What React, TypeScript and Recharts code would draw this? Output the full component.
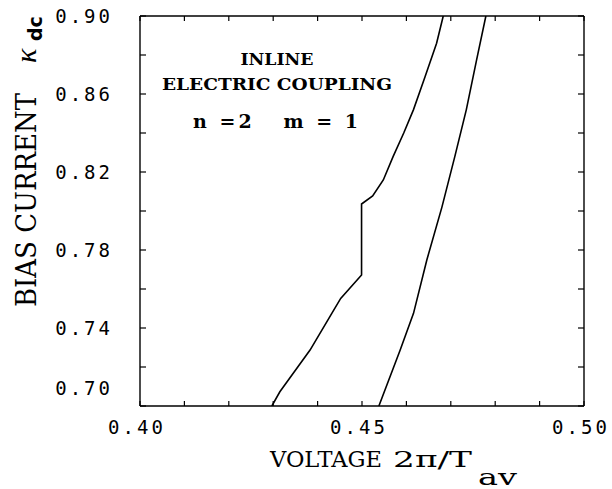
import { LineChart, Line, XAxis, YAxis, Label } from 'recharts';

// left branch (lower boundary, with the jump near 0.45)
const leftVoltage = [0.4297, 0.4315, 0.4383, 0.4432, 0.4452, 0.4499, 0.4499, 0.4524, 0.4548, 0.4570, 0.4594, 0.4616, 0.4642, 0.4668, 0.4683];
const leftCurrent = [0.700, 0.7073, 0.7287, 0.7475, 0.7552, 0.7672, 0.8036, 0.8077, 0.8159, 0.8279, 0.8400, 0.8520, 0.8689, 0.8860, 0.900];

// right branch
const rightVoltage = [0.4538, 0.4586, 0.4616, 0.4646, 0.4680, 0.4709, 0.4735, 0.4758, 0.4779];
const rightCurrent = [0.700, 0.7287, 0.7475, 0.7749, 0.8020, 0.8279, 0.8520, 0.8774, 0.900];

const xTicks = [0.40, 0.41, 0.42, 0.43, 0.44, 0.45, 0.46, 0.47, 0.48, 0.49, 0.50];
const yTicks = [0.70, 0.72, 0.74, 0.76, 0.78, 0.80, 0.82, 0.84, 0.86, 0.88, 0.90];
const xLabels = ['0.40', '0.45', '0.50'];
const yLabels = ['0.70', '0.74', '0.78', '0.82', '0.86', '0.90'];

const leftBranch = leftVoltage.map((v, i) => ({ v, k: leftCurrent[i] }));
const rightBranch = rightVoltage.map((v, i) => ({ v, k: rightCurrent[i] }));

const numFont = '"DejaVu Sans Mono", monospace';
const serifFont = '"DejaVu Serif", serif';

const BottomTick = (props: any) => {
    const { x, y, payload } = props;
    const label = Number(payload.value).toFixed(2);
    return (
        <g>
            <line x1={x} x2={x} y1={y} y2={y - 5} stroke="#000" strokeWidth={1.2} />
            {xLabels.includes(label) && (
                <text x={x - 3} y={y + 28} textAnchor="middle" fontFamily={numFont} fontSize={19} letterSpacing={3} fill="#000">
                    {label}
                </text>
            )}
        </g>
    );
};

const TopTick = (props: any) => {
    const { x, y } = props;
    return <line x1={x} x2={x} y1={y} y2={y + 5} stroke="#000" strokeWidth={1.2} />;
};

const LeftTick = (props: any) => {
    const { x, y, payload } = props;
    const label = Number(payload.value).toFixed(2);
    const dy = label === '0.70' ? -11 : 7;
    return (
        <g>
            <line x1={x} x2={x + 6} y1={y} y2={y} stroke="#000" strokeWidth={1.2} />
            {yLabels.includes(label) && (
                <text x={x - 27} y={y + dy} textAnchor="end" fontFamily={numFont} fontSize={19} letterSpacing={3} fill="#000">
                    {label}
                </text>
            )}
        </g>
    );
};

const RightTick = (props: any) => {
    const { x, y } = props;
    return <line x1={x} x2={x - 6} y1={y} y2={y} stroke="#000" strokeWidth={1.2} />;
};

const XTitle = () => (
    <g fill="#000" fontFamily={serifFont}>
        <text x={270} y={467} fontSize={23} textLength={112} lengthAdjust="spacingAndGlyphs">VOLTAGE</text>
        <text x={393} y={467} fontSize={23} textLength={79} lengthAdjust="spacingAndGlyphs">2π/T</text>
        <text x={478} y={485} fontSize={22} textLength={39} lengthAdjust="spacingAndGlyphs">av</text>
    </g>
);

const YTitle = () => (
    <g fill="#000">
        <text x={36} y={307} transform="rotate(-90 36 307)" fontFamily={serifFont} fontSize={28} textLength={214} lengthAdjust="spacingAndGlyphs">
            BIAS CURRENT
        </text>
        <text x={36} y={63} transform="rotate(-90 36 63)" fontFamily='"Liberation Serif", serif' fontStyle="italic" fontSize={30}>κ</text>
        <text x={42} y={41} transform="rotate(-90 42 41)" fontFamily='"DejaVu Sans", sans-serif' fontWeight="bold" fontSize={19}>dc</text>
    </g>
);

const Notes = () => (
    <g fill="#000" fontFamily={serifFont} fontWeight="bold">
        <text x={277} y={65} fontSize={17} textAnchor="middle" textLength={73} lengthAdjust="spacingAndGlyphs">INLINE</text>
        <text x={277} y={90} fontSize={17} textAnchor="middle" textLength={230} lengthAdjust="spacingAndGlyphs">ELECTRIC COUPLING</text>
        <text x={193} y={128} fontSize={19} textLength={165} lengthAdjust="spacing" style={{ whiteSpace: 'pre' }}>n =2   m = 1</text>
    </g>
);

export default function App() {
    return (
        <div style={{ position: 'absolute', left: 0, top: 0, width: 612, height: 489, background: '#fff' }}>
            <LineChart width={612} height={489} margin={{ top: 0, right: 0, bottom: 0, left: 0 }}>
                <XAxis
                    xAxisId="b"
                    dataKey="v"
                    type="number"
                    domain={[0.4, 0.5]}
                    ticks={xTicks}
                    interval={0}
                    height={83}
                    tickSize={0}
                    tickMargin={0}
                    tickLine={false}
                    axisLine={{ stroke: '#000', strokeWidth: 1.4 }}
                    tick={BottomTick}
                    allowDataOverflow
                >
                    <Label content={XTitle} />
                </XAxis>
                <XAxis
                    xAxisId="t"
                    dataKey="v"
                    type="number"
                    orientation="top"
                    domain={[0.4, 0.5]}
                    ticks={xTicks}
                    interval={0}
                    height={16}
                    tickSize={0}
                    tickMargin={0}
                    tickLine={false}
                    axisLine={{ stroke: '#000', strokeWidth: 1.4 }}
                    tick={TopTick}
                    allowDataOverflow
                >
                    <Label content={Notes} />
                </XAxis>
                <YAxis
                    yAxisId="l"
                    type="number"
                    domain={[0.7, 0.9]}
                    ticks={yTicks}
                    interval={0}
                    width={140}
                    tickSize={0}
                    tickMargin={0}
                    tickLine={false}
                    axisLine={{ stroke: '#000', strokeWidth: 1.4 }}
                    tick={LeftTick}
                    allowDataOverflow
                >
                    <Label content={YTitle} />
                </YAxis>
                <YAxis
                    yAxisId="r"
                    type="number"
                    orientation="right"
                    domain={[0.7, 0.9]}
                    ticks={yTicks}
                    interval={0}
                    width={28}
                    tickSize={0}
                    tickMargin={0}
                    tickLine={false}
                    axisLine={{ stroke: '#000', strokeWidth: 1.4 }}
                    tick={RightTick}
                    allowDataOverflow
                />
                <Line
                    xAxisId="b"
                    yAxisId="l"
                    data={leftBranch}
                    dataKey="k"
                    type="linear"
                    stroke="#000"
                    strokeWidth={1.6}
                    dot={false}
                    isAnimationActive={false}
                />
                <Line
                    xAxisId="b"
                    yAxisId="l"
                    data={rightBranch}
                    dataKey="k"
                    type="linear"
                    stroke="#000"
                    strokeWidth={1.6}
                    dot={false}
                    isAnimationActive={false}
                />
            </LineChart>
        </div>
    );
}
